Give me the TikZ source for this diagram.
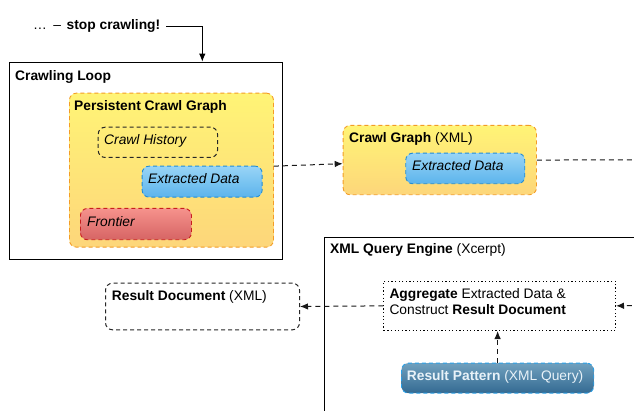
\documentclass[tikz,border=0pt]{standalone}
\usepackage{fontspec}
\setmainfont{Liberation Sans}
\usetikzlibrary{arrows.meta,calc}
\definecolor{yelTop}{RGB}{255,244,118}
\definecolor{yelBot}{RGB}{253,214,122}
\definecolor{yelLine}{RGB}{243,156,38}
\definecolor{bluTop}{RGB}{152,212,246}
\definecolor{bluBot}{RGB}{92,180,236}
\definecolor{bluLine}{RGB}{34,140,212}
\definecolor{redTop}{RGB}{246,146,140}
\definecolor{redBot}{RGB}{214,100,100}
\definecolor{redLine}{RGB}{200,30,30}
\definecolor{patTop}{RGB}{112,160,190}
\definecolor{patBot}{RGB}{52,106,146}
\definecolor{patLine}{RGB}{40,160,232}
\definecolor{patText}{RGB}{232,242,248}
\begin{document}
\begin{tikzpicture}[x=1pt,y=-1pt,
  font=\fontsize{13.8}{16}\selectfont,
  boxbase/.style={anchor=north west, inner sep=0pt, line width=0.9pt},
  plainbox/.style={boxbase, draw=black},
  dashbox/.style={boxbase, rounded corners=7pt, dash pattern=on 4pt off 3pt},
  yelbox/.style={dashbox, draw=yelLine, top color=yelTop, bottom color=yelBot},
  blubox/.style={dashbox, draw=bluLine, top color=bluTop, bottom color=bluBot},
  redbox/.style={dashbox, draw=redLine, top color=redTop, bottom color=redBot},
  patbox/.style={dashbox, draw=patLine, top color=patTop, bottom color=patBot},
  blkbox/.style={dashbox, draw=black!85, line width=1pt},
  dotbox/.style={boxbase, draw=black, line width=1pt, dash pattern=on 1.2pt off 2.4pt},
  lbl/.style={anchor=base west, inner sep=0pt},
  conn/.style={draw=black!90, line width=1pt, dash pattern=on 5pt off 4pt, -{Latex[length=8pt,width=6.5pt]}},
  solidarr/.style={draw=black, line width=1pt, -{Latex[length=8pt,width=6.5pt]}}
]
\useasboundingbox (0,0) rectangle (634,411);
\clip (0,0) rectangle (634,411);
\fill[white] (0,0) rectangle (634,411);

% boxes
\node[plainbox, minimum width=272.4pt, minimum height=197.3pt] (loop) at (9.3,61.7) {};
\node[yelbox, minimum width=204pt, minimum height=154pt] (pcg) at (69,92.7) {};
\node[blkbox, minimum width=119.3pt, minimum height=30.3pt] (hist) at (97.7,126.7) {};
\node[blubox, minimum width=120pt, minimum height=31pt] (ext1) at (141.7,165.7) {};
\node[redbox, minimum width=111pt, minimum height=31.3pt] (front) at (80,208) {};
\node[yelbox, minimum width=193.3pt, minimum height=69.3pt] (cg) at (342.7,125) {};
\node[blubox, minimum width=119pt, minimum height=30.6pt] (ext2) at (405.3,152.7) {};
\node[plainbox, minimum width=340pt, minimum height=200pt] (qe) at (324,237.3) {};
\node[blkbox, minimum width=194pt, minimum height=46.6pt] (res) at (105,282.7) {};
\node[dotbox, minimum width=231.7pt, minimum height=49.3pt] (agg) at (383.3,280.7) {};
\node[patbox, minimum width=192.3pt, minimum height=30pt] (pat) at (401,362.7) {};

% labels
\node[lbl] (stop) at (33,30) {…\hspace{6.5pt}–\hspace{5.5pt}\textbf{stop crawling!}};
\node[lbl] (loopL) at (15,81) {\textbf{Crawling Loop}};
\node[lbl] (pcgL) at (74,111) {\textbf{Persistent Crawl Graph}};
\node[lbl] (histL) at (104,145) {\textit{Crawl History}};
\node[lbl] (ext1L) at (148,184) {\textit{Extracted Data}};
\node[lbl] (frontL) at (87,227) {\textit{Frontier}};
\node[lbl] (cgL) at (349,142.7) {\textbf{Crawl Graph} (XML)};
\node[lbl] (ext2L) at (412,171) {\textit{Extracted Data}};
\node[lbl] (qeL) at (330,253.3) {\textbf{XML Query Engine} (Xcerpt)};
\node[lbl] (resL) at (111.7,300.7) {\textbf{Result Document} (XML)};
\node[lbl] (aggL1) at (389.3,298.3) {\textbf{Aggregate} Extracted Data \&};
\node[lbl] (aggL2) at (389.3,314.3) {Construct \textbf{Result Document}};
\node[lbl, text=patText] (patL) at (406.7,380) {\textbf{Result Pattern} (XML Query)};

% connectors
\coordinate (drop) at (202.3,61.7);
\draw[solidarr] ([xshift=6pt]stop.east) -| (drop);
\draw[conn] ($(pcg.east)+(0,-4)$) -- ($(cg.west)+(0,3.6)$);
\coordinate (r1) at (660,159.65);
\coordinate (r2) at (660,305.35);
\draw[conn] (cg.east) -- (r1) -- (r2) -- (agg.east);
\draw[conn] (agg.west) -- (res.east);
\draw[conn] (pat.north) -- (pat.north |- agg.south);
\end{tikzpicture}
\end{document}
